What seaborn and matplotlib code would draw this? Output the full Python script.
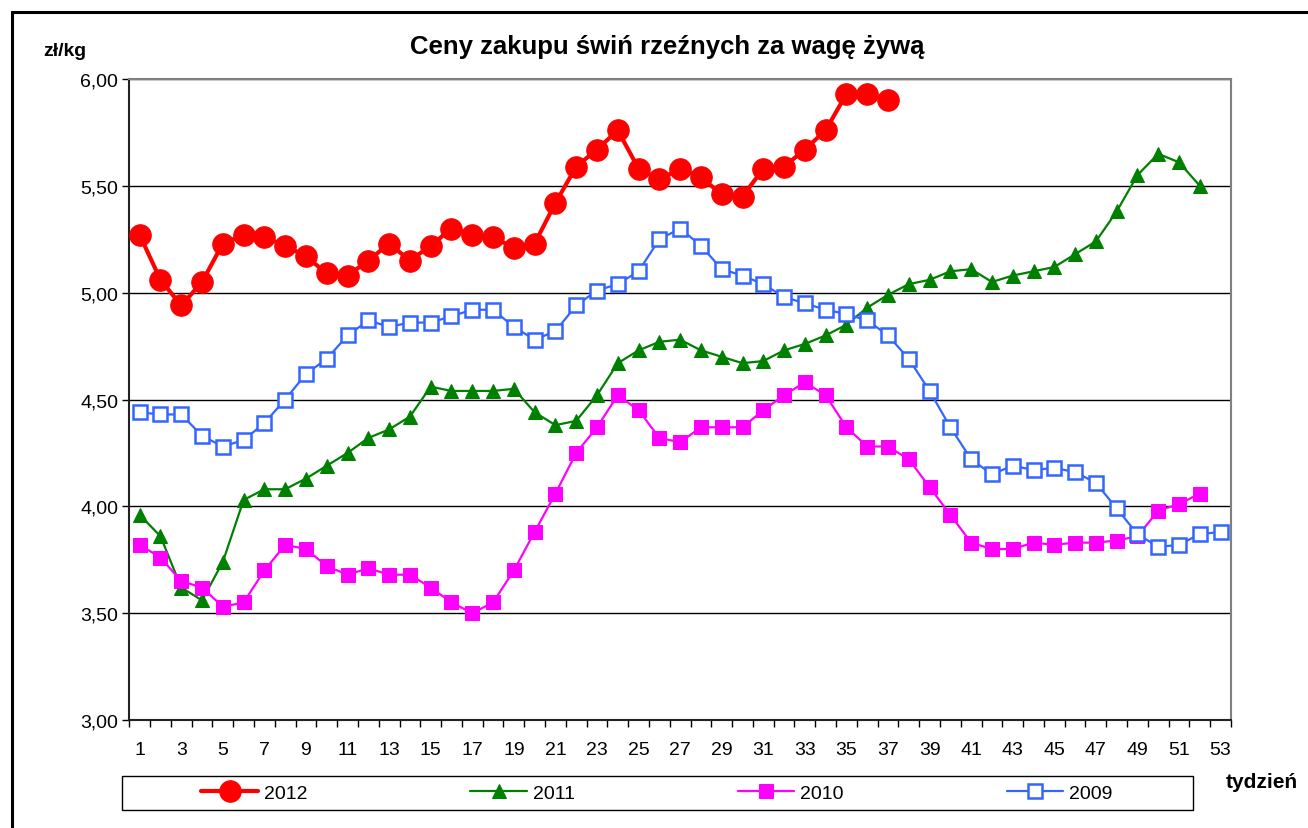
import seaborn as sns
import matplotlib
matplotlib.use("Agg")
import matplotlib.pyplot as plt
from matplotlib.patches import Rectangle
from matplotlib.ticker import FuncFormatter, MultipleLocator

# ceny zakupu (zl/kg) wg tygodni
weeks = list(range(1, 54))

p2012 = [5.27, 5.06, 4.94, 5.05, 5.23, 5.27, 5.26, 5.22, 5.17, 5.09,
         5.08, 5.15, 5.23, 5.15, 5.22, 5.30, 5.27, 5.26, 5.21, 5.23,
         5.42, 5.59, 5.67, 5.76, 5.58, 5.53, 5.58, 5.54, 5.46, 5.45,
         5.58, 5.59, 5.67, 5.76, 5.93, 5.93, 5.90]

p2011 = [3.96, 3.86, 3.62, 3.56, 3.74, 4.03, 4.08, 4.08, 4.13, 4.19,
         4.25, 4.32, 4.36, 4.42, 4.56, 4.54, 4.54, 4.54, 4.55, 4.44,
         4.38, 4.40, 4.52, 4.67, 4.73, 4.77, 4.78, 4.73, 4.70, 4.67,
         4.68, 4.73, 4.76, 4.80, 4.85, 4.93, 4.99, 5.04, 5.06, 5.10,
         5.11, 5.05, 5.08, 5.10, 5.12, 5.18, 5.24, 5.38, 5.55, 5.65,
         5.61, 5.50]

p2010 = [3.82, 3.76, 3.65, 3.62, 3.53, 3.55, 3.70, 3.82, 3.80, 3.72,
         3.68, 3.71, 3.68, 3.68, 3.62, 3.55, 3.50, 3.55, 3.70, 3.88,
         4.06, 4.25, 4.37, 4.52, 4.45, 4.32, 4.30, 4.37, 4.37, 4.37,
         4.45, 4.52, 4.58, 4.52, 4.37, 4.28, 4.28, 4.22, 4.09, 3.96,
         3.83, 3.80, 3.80, 3.83, 3.82, 3.83, 3.83, 3.84, 3.86, 3.98,
         4.01, 4.06]

p2009 = [4.44, 4.43, 4.43, 4.33, 4.28, 4.31, 4.39, 4.50, 4.62, 4.69,
         4.80, 4.87, 4.84, 4.86, 4.86, 4.89, 4.92, 4.92, 4.84, 4.78,
         4.82, 4.94, 5.01, 5.04, 5.10, 5.25, 5.30, 5.22, 5.11, 5.08,
         5.04, 4.98, 4.95, 4.92, 4.90, 4.87, 4.80, 4.69, 4.54, 4.37,
         4.22, 4.15, 4.19, 4.17, 4.18, 4.16, 4.11, 3.99, 3.87, 3.81,
         3.82, 3.87, 3.88]

sns.set_style("white")
plt.rcParams["font.family"] = ["Liberation Sans", "DejaVu Sans"]
plt.rcParams["text.color"] = "black"
plt.rcParams["xtick.color"] = "black"
plt.rcParams["ytick.color"] = "black"

fig = plt.figure(figsize=(13.08, 8.29), dpi=100)
ax = fig.add_axes([129.3 / 1308, 108 / 829, 1101.7 / 1308, 641 / 829])

sns.lineplot(x=weeks[:len(p2012)], y=p2012, ax=ax, color="#FF0000", lw=3,
             marker="o", markersize=15.5, markeredgecolor="#FF0000",
             markerfacecolor="#FF0000", label="2012", zorder=3)
sns.lineplot(x=weeks[:len(p2011)], y=p2011, ax=ax, color="#008000", lw=1.6,
             marker="^", markersize=10, markeredgecolor="#008000",
             markerfacecolor="#008000", label="2011", zorder=3)
sns.lineplot(x=weeks[:len(p2010)], y=p2010, ax=ax, color="#FF00FF", lw=1.6,
             marker="s", markersize=10, markeredgecolor="#FF00FF",
             markerfacecolor="#FF00FF", label="2010", zorder=3)
sns.lineplot(x=weeks[:len(p2009)], y=p2009, ax=ax, color="#3366FF", lw=1.6,
             marker="s", markersize=10, markeredgecolor="#3366FF",
             markerfacecolor="white", markeredgewidth=1.8, label="2009", zorder=3)

ax.set_xlim(0.5, 53.5)
ax.set_ylim(3.0, 6.0)
ax.set_xlabel("")
ax.set_ylabel("")

ax.set_xticks(weeks[::2])
ax.set_xticklabels([str(w) for w in weeks[::2]])
ax.xaxis.set_minor_locator(MultipleLocator(1, offset=0.5))
ax.tick_params(axis="x", which="major", length=0, pad=15, labelsize=14)
ax.tick_params(axis="x", which="minor", length=5, width=1, direction="out",
               color="black", bottom=True)

ax.yaxis.set_major_locator(MultipleLocator(0.5))
ax.yaxis.set_major_formatter(FuncFormatter(lambda v, p: f"{v:.2f}".replace(".", ",")))
ax.tick_params(axis="y", length=5, width=1, direction="out", color="black",
               left=True, labelsize=14, pad=3)

ax.grid(axis="y", color="black", lw=1)
ax.grid(axis="x", visible=False)
ax.set_axisbelow(True)

for side in ["left", "bottom"]:
    ax.spines[side].set_color("#222222")
    ax.spines[side].set_linewidth(1.5)
for side in ["top", "right"]:
    ax.spines[side].set_color("#808080")
    ax.spines[side].set_linewidth(1.5)

ax.get_legend().remove()
handles, labels = ax.get_legend_handles_labels()
fig.legend(handles, labels, loc="center", bbox_to_anchor=(657 / 1308, 1 - 794 / 829),
           ncol=4, frameon=False, fontsize=14, handlelength=2.9,
           columnspacing=8.4, handletextpad=0.3)
fig.add_artist(Rectangle((121.7 / 1308, 1 - 811 / 829), 1071 / 1308, 34 / 829,
                         transform=fig.transFigure, fill=False, ec="black", lw=1))

# ramka wykresu
fig.add_artist(Rectangle((12 / 1308, -0.1), 1.2, 1.1 - 13 / 829,
                         transform=fig.transFigure, fill=False, ec="black", lw=2.2))

fig.text(667 / 1308, 1 - 47 / 829, "Ceny zakupu świń rzeźnych za wagę żywą",
         ha="center", va="center", fontsize=18.5, fontweight="bold")
fig.text(65 / 1308, 1 - 52 / 829, "zł/kg", ha="center", va="center",
         fontsize=14, fontweight="bold")
fig.text(1226 / 1308, 1 - 783 / 829, "tydzień", ha="left", va="center",
         fontsize=15, fontweight="bold")

fig.savefig("out.png", dpi=100)
